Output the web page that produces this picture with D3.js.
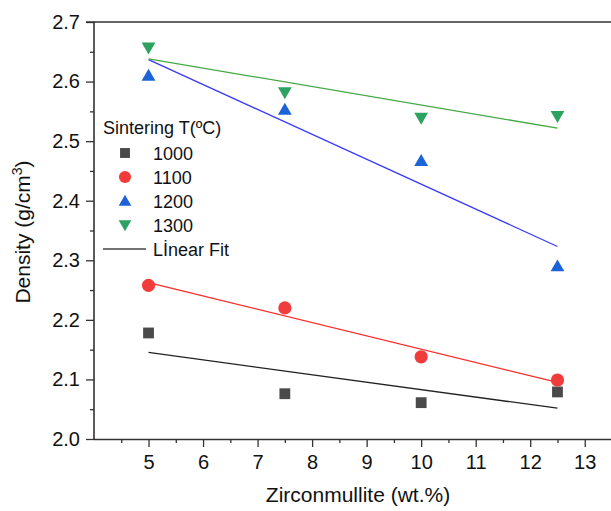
<!DOCTYPE html>
<html><head><meta charset="utf-8">
<script src="https://cdn.jsdelivr.net/npm/d3@7"></script>
<style>body{margin:0;background:#fff}svg{display:block;font-family:"Liberation Sans",Arial,sans-serif}</style>
</head><body><svg id="c" width="611" height="511"></svg>
<script>
const xValues = [5, 7.5, 10, 12.5];
const series1000 = [2.178, 2.076, 2.061, 2.079];
const series1100 = [2.258, 2.220, 2.138, 2.099];
const series1200 = [2.610, 2.553, 2.467, 2.290];
const series1300 = [2.657, 2.582, 2.539, 2.542];
const seriesNames = ["1000", "1100", "1200", "1300"];
const xTicks = [5, 6, 7, 8, 9, 10, 11, 12, 13];
const yTicks = [2.0, 2.1, 2.2, 2.3, 2.4, 2.5, 2.6, 2.7];

const allSeries = [series1000, series1100, series1200, series1300];
const markerColors = ["#4a4a4a", "#f23c3c", "#1c63d8", "#2ea260"];
const lineColors = ["#222222", "#ff2a2a", "#3a3aff", "#45a845"];
const markerTypes = ["square", "circle", "triangle", "triangleDown"];

const svg = d3.select("#c");
const x = d3.scaleLinear().domain([4, 13.5]).range([94, 612]);
const y = d3.scaleLinear().domain([2.0, 2.7]).range([439, 22]);

// Axes
const gx = svg.append("g").attr("transform", `translate(0,${y(2.0)})`);
gx.call(d3.axisBottom(x).tickValues(d3.range(4.5, 13.6, 0.5).filter(v => v % 1 !== 0)).tickSize(4).tickFormat(""));
gx.call(g => g.selectAll(".tick line").attr("stroke", "#333").attr("stroke-width", 1.3));
const gx2 = svg.append("g").attr("transform", `translate(0,${y(2.0)})`);
gx2.call(d3.axisBottom(x).tickValues(xTicks).tickSize(8).tickPadding(8).tickFormat(d3.format("d")));
gx2.select(".domain").attr("stroke", "#333").attr("stroke-width", 1.6).attr("d", `M${x(4)},0.5H611`);
gx2.selectAll(".tick line").attr("stroke", "#333").attr("stroke-width", 1.3);
gx2.selectAll(".tick text").attr("font-size", 20).attr("fill", "#111").attr("font-family", "Liberation Sans, Arial, sans-serif");
gx.select(".domain").remove();

const gy = svg.append("g").attr("transform", `translate(${x(4)},0)`);
gy.call(d3.axisLeft(y).tickValues(d3.range(2.05, 2.7, 0.1)).tickSize(4).tickFormat(""));
gy.select(".domain").remove();
gy.selectAll(".tick line").attr("stroke", "#333").attr("stroke-width", 1.3);
const gy2 = svg.append("g").attr("transform", `translate(${x(4)},0)`);
gy2.call(d3.axisLeft(y).tickValues(yTicks).tickSize(8).tickPadding(6).tickFormat(d3.format(".1f")));
gy2.select(".domain").attr("stroke", "#333").attr("stroke-width", 1.6).attr("d", `M-8,${y(2.7)}H0V${y(2.0)}`);
gy2.selectAll(".tick line").attr("stroke", "#333").attr("stroke-width", 1.3);
gy2.selectAll(".tick text").attr("font-size", 20).attr("fill", "#111").attr("font-family", "Liberation Sans, Arial, sans-serif");

// top border
svg.append("line").attr("x1", x(4)).attr("x2", 611).attr("y1", y(2.7)).attr("y2", y(2.7))
  .attr("stroke", "#333").attr("stroke-width", 1.6);

// Axis titles
svg.append("text").attr("x", 358).attr("y", 502).attr("text-anchor", "middle")
  .attr("font-size", 21).attr("fill", "#111").text("Zirconmullite (wt.%)");
const yt = svg.append("text").attr("transform", "translate(30,232) rotate(-90)")
  .attr("text-anchor", "middle").attr("font-size", 21).attr("fill", "#111");
yt.append("tspan").text("Density (g/cm");
yt.append("tspan").attr("font-size", 14).attr("dy", -8).text("3");
yt.append("tspan").attr("dy", 8).text(")");

// symbol drawing
function marker(g, type, cx, cy, color, s) {
  if (type === "square") {
    g.append("rect").attr("x", cx - s*0.45).attr("y", cy - s*0.45).attr("width", s*0.9).attr("height", s*0.9).attr("fill", color);
  } else if (type === "circle") {
    g.append("circle").attr("cx", cx).attr("cy", cy).attr("r", s*0.55).attr("fill", color);
  } else if (type === "triangle") {
    const h = s*0.95, w = s*1.15;
    g.append("path").attr("d", `M${cx},${cy - h*0.6}L${cx + w/2},${cy + h*0.45}L${cx - w/2},${cy + h*0.45}Z`).attr("fill", color);
  } else {
    const h = s*0.95, w = s*1.15;
    g.append("path").attr("d", `M${cx},${cy + h*0.6}L${cx + w/2},${cy - h*0.45}L${cx - w/2},${cy - h*0.45}Z`).attr("fill", color);
  }
}

// Fit lines (least squares on each series)
function fit(xs, ys) {
  const mx = d3.mean(xs), my = d3.mean(ys);
  const b = d3.sum(xs, (v, i) => (v - mx) * (ys[i] - my)) / d3.sum(xs, v => (v - mx) ** 2);
  return v => my + b * (v - mx);
}
const plot = svg.append("g");
allSeries.forEach((ys, k) => {
  const f = fit(xValues, ys);
  const x0 = d3.min(xValues), x1 = d3.max(xValues);
  plot.append("line").attr("x1", x(x0)).attr("x2", x(x1)).attr("y1", y(f(x0))).attr("y2", y(f(x1)))
    .attr("stroke", lineColors[k]).attr("stroke-width", 1.3);
});
allSeries.forEach((ys, k) => {
  ys.forEach((v, i) => marker(plot, markerTypes[k], x(xValues[i]), y(v), markerColors[k], 12));
});

// Legend
const lg = svg.append("g");
lg.append("text").attr("x", 103).attr("y", 134).attr("font-size", 18).attr("fill", "#111").text("Sintering T(ºC)");
const rowY = [153, 177, 201, 225];
seriesNames.forEach((n, k) => {
  marker(lg, markerTypes[k], 125, rowY[k], markerColors[k], 11);
  lg.append("text").attr("x", 153).attr("y", rowY[k] + 7).attr("font-size", 18).attr("fill", "#111").text(n);
});
lg.append("line").attr("x1", 103).attr("x2", 146).attr("y1", 249).attr("y2", 249).attr("stroke", "#444").attr("stroke-width", 1.3);
lg.append("text").attr("x", 153).attr("y", 256).attr("font-size", 18).attr("fill", "#111").text("Lİnear Fit");
</script></body></html>
